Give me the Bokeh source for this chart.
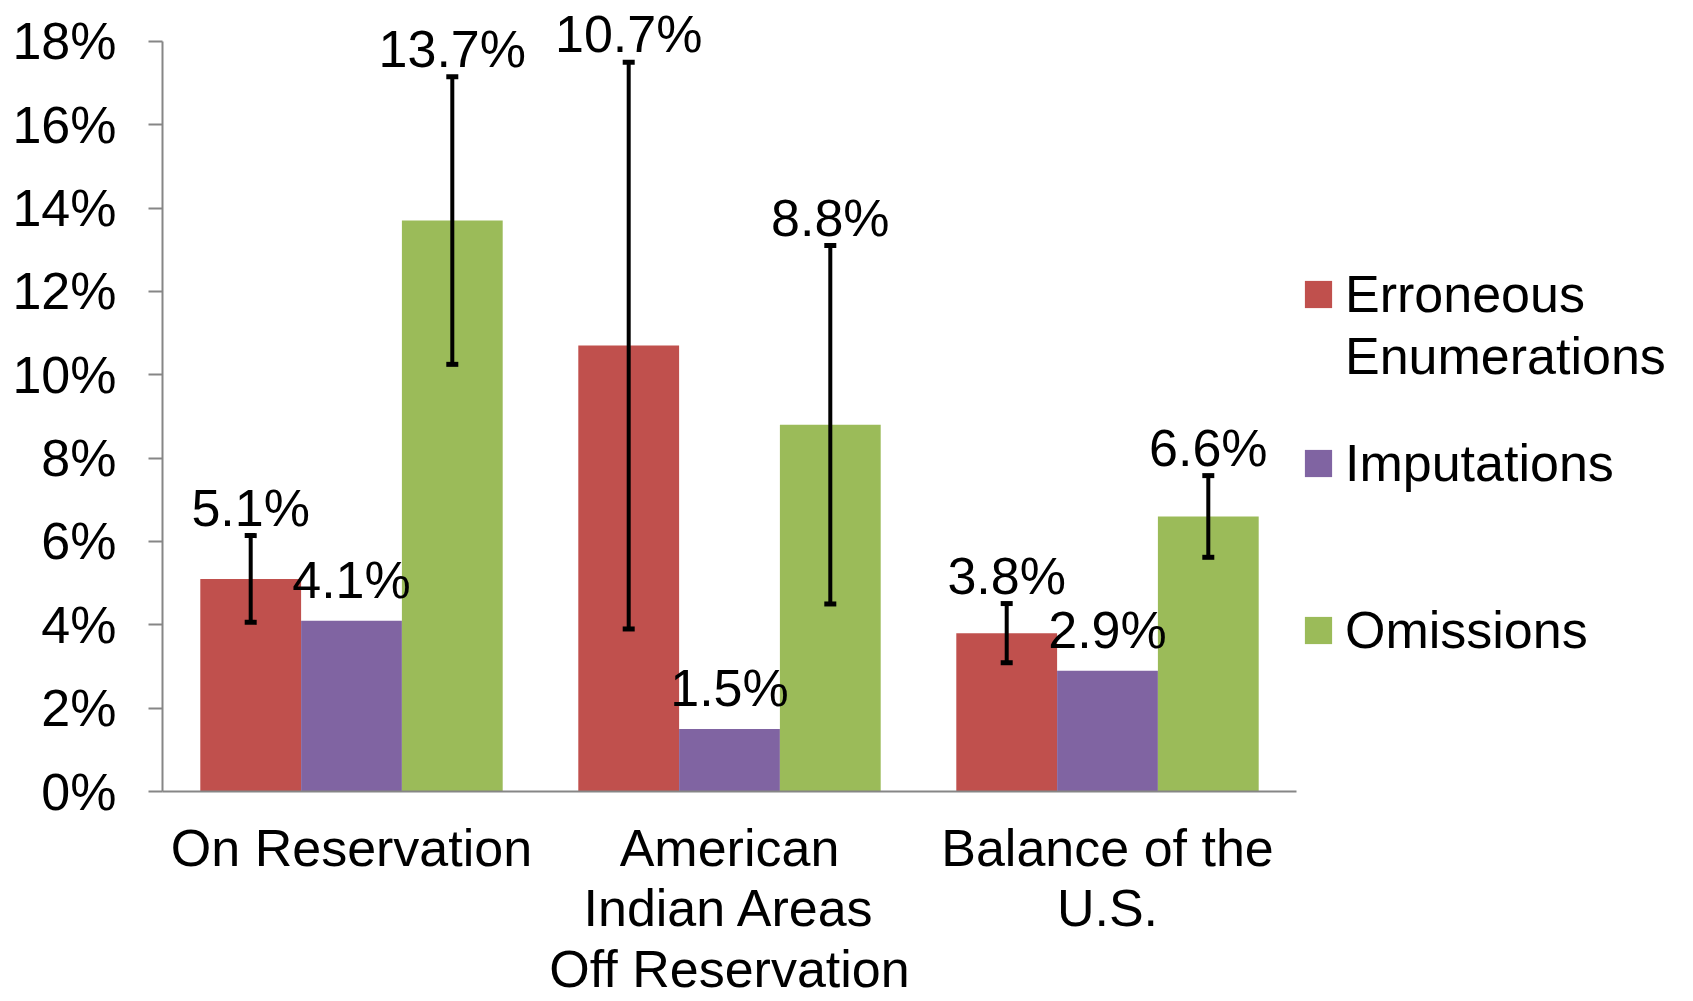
from bokeh.plotting import figure
from bokeh.models import (ColumnDataSource, Range1d, Whisker, TeeHead,
                          Legend, LegendItem, FixedTicker, PrintfTickFormatter)
from bokeh.transform import dodge
from bokeh.core.properties import value
from bokeh.embed import file_html
from bokeh.resources import INLINE

# ---- data ----
categories = ["On Reservation", "American\nIndian Areas\nOff Reservation", "Balance of the\nU.S."]
series_names = ["Erroneous Enumerations", "Imputations", "Omissions"]
erroneous = [5.1, 10.7, 3.8]
imputations = [4.1, 1.5, 2.9]
omissions = [13.7, 8.8, 6.6]
erroneous_err = [1.04, 6.8, 0.71]
omissions_err = [3.45, 4.3, 0.98]
y_ticks = [0, 2, 4, 6, 8, 10, 12, 14, 16, 18]

colors = ["#C0504D", "#8064A2", "#9BBB59"]
FONT = "Liberation Sans"
FS = "52px"
AXIS_COLOR = "#868686"

pos = list(range(len(categories)))
src = ColumnDataSource(dict(
    x=pos,
    err=erroneous, imp=imputations, om=omissions,
    err_up=[v + e for v, e in zip(erroneous, erroneous_err)],
    err_lo=[v - e for v, e in zip(erroneous, erroneous_err)],
    om_up=[v + e for v, e in zip(omissions, omissions_err)],
    om_lo=[v - e for v, e in zip(omissions, omissions_err)],
    err_lbl=[f"{v:.1f}%" for v in erroneous],
    imp_lbl=[f"{v:.1f}%" for v in imputations],
    om_lbl=[f"{v:.1f}%" for v in omissions],
))

W, H = 1685, 1001
LEFT, BOTTOM = 162, 207
frame_w = W - LEFT
cat_px = 378
x_end = -0.5 + frame_w / cat_px
y_top = y_ticks[-1] + 41 / 41.8

p = figure(x_range=Range1d(-0.5, x_end), y_range=Range1d(0, y_top),
           width=W, height=H, output_backend="svg", toolbar_location=None,
           min_border_left=LEFT, min_border_top=0, min_border_bottom=BOTTOM,
           min_border_right=0)

bw = 0.8 / 3
offsets = [-bw, 0, bw]
cols = ["err", "imp", "om"]
renderers = []
for col, off, c in zip(cols, offsets, colors):
    r = p.vbar(x=dodge("x", off), top=col, width=bw, source=src,
               fill_color=c, line_color=None)
    renderers.append(r)

for up, lo, off in [("err_up", "err_lo", offsets[0]), ("om_up", "om_lo", offsets[2])]:
    w = Whisker(base=dodge("x", off), upper=up, lower=lo, source=src,
                line_width=4, line_color="black", level="overlay",
                upper_head=TeeHead(size=12, line_width=5, line_color="black"),
                lower_head=TeeHead(size=12, line_width=5, line_color="black"))
    p.add_layout(w)

# data labels
for ycol, lbl, off, yoff in [("err_up", "err_lbl", offsets[0], -28),
                             ("imp", "imp_lbl", offsets[1], -41),
                             ("om_up", "om_lbl", offsets[2], -28)]:
    p.text(x=dodge("x", off), y=ycol, text=lbl, source=src,
           text_align="center", text_baseline="alphabetic", y_offset=yoff,
           text_font=value(FONT), text_font_size=FS, text_color="black")

# axes
p.xgrid.visible = False
p.ygrid.visible = False
p.outline_line_color = None

p.yaxis.ticker = FixedTicker(ticks=y_ticks)
p.yaxis.formatter = PrintfTickFormatter(format="%d%%")
p.yaxis.bounds = (y_ticks[0], y_ticks[-1])
p.xaxis.ticker = FixedTicker(ticks=pos)
p.xaxis.major_label_overrides = {i: c for i, c in zip(pos, categories)}
p.xaxis.bounds = (-0.5, len(categories) - 0.5)
for ax in (p.xaxis[0], p.yaxis[0]):
    ax.axis_line_color = AXIS_COLOR
    ax.axis_line_width = 2
    ax.major_tick_line_color = AXIS_COLOR
    ax.major_tick_line_width = 2
    ax.minor_tick_line_color = None
    ax.major_tick_in = 0
    ax.major_label_text_font = FONT
    ax.major_label_text_font_size = FS
    ax.major_label_text_color = "black"
p.yaxis.major_tick_out = 14
p.yaxis.major_label_standoff = 32
p.xaxis.major_tick_out = 0
p.xaxis.major_label_standoff = 27
p.xaxis.major_label_text_line_height = 1.05

# legend (one per series, placed to the right of the bars)
first, second = series_names[0].split(" ")
legend_specs = [
    ([LegendItem(label=first, renderers=[renderers[0]]),
      LegendItem(label=second, renderers=[])], (1139, 405)),
    ([LegendItem(label=series_names[1], renderers=[renderers[1]])], (1139, 298)),
    ([LegendItem(label=series_names[2], renderers=[renderers[2]])], (1139, 131)),
]
for items, loc in legend_specs:
    lg = Legend(items=items, location=loc, spacing=2,
                label_text_font=FONT, label_text_font_size=FS, label_text_color="black",
                label_text_line_height=1.0,
                glyph_width=34, glyph_height=34, label_standoff=10,
                padding=0, margin=0, border_line_color=None, background_fill_alpha=0)
    p.add_layout(lg)

open("out.html", "w").write(file_html(p, INLINE))
